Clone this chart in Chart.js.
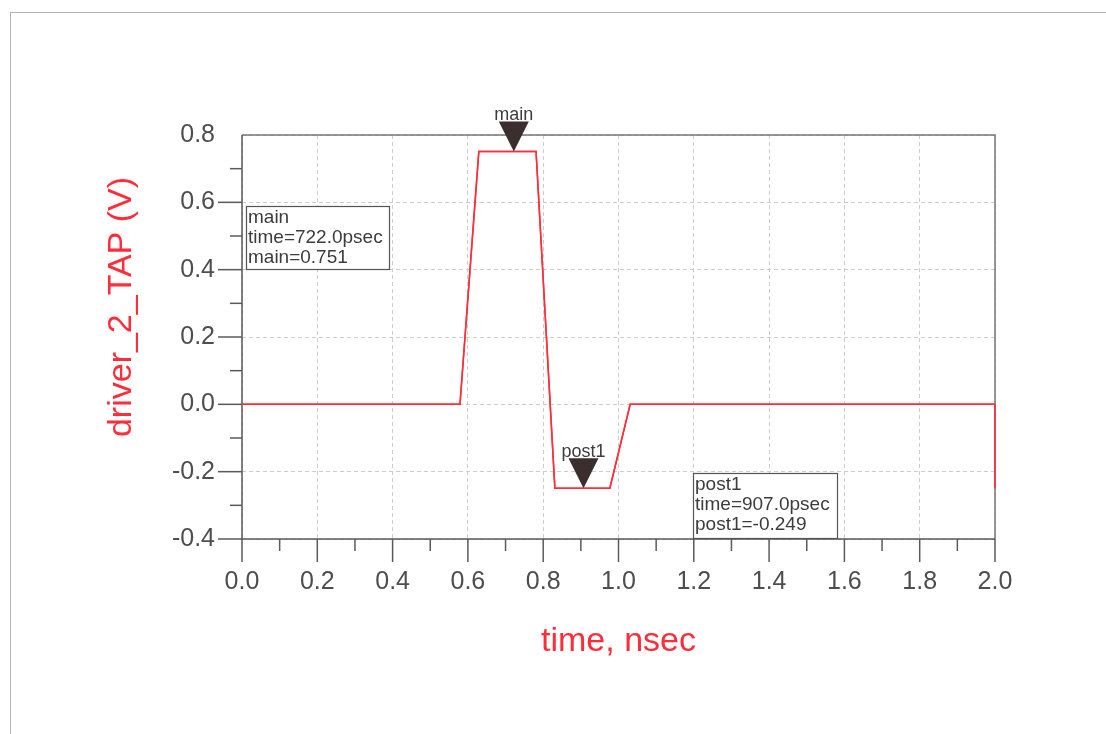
<!DOCTYPE html>
<html>
<head>
<meta charset="utf-8">
<script src="https://cdn.jsdelivr.net/npm/chart.js@4"></script>
<style>
  html, body { margin: 0; padding: 0; background: #fff; overflow: hidden; }
  #wrap { position: relative; width: 1106px; height: 734px; }
  #frame { position: absolute; left: 10px; top: 12px; width: 1200px; height: 800px; border: 1px solid #b4b4b4; box-sizing: border-box; }
  canvas { position: absolute; left: 0; top: 0; }
</style>
</head>
<body>
<div id="wrap">
  <div id="frame"></div>
  <canvas id="c" width="1106" height="734"></canvas>
</div>
<script>
// ---- data ----
const timeNs   = [0, 0.579, 0.629, 0.781, 0.831, 0.977, 1.031, 2.0, 2.0];
const voltage  = [0, 0, 0.751, 0.751, -0.249, -0.249, 0, 0, -0.25];
const xTickLabels = ['0.0','0.2','0.4','0.6','0.8','1.0','1.2','1.4','1.6','1.8','2.0'];
const yTickLabels = ['-0.4','-0.2','0.0','0.2','0.4','0.6','0.8'];
const markerNames  = ['main', 'post1'];
const markerTimes  = [0.722, 0.907];
const markerValues = [0.751, -0.249];
const xTitle = 'time, nsec';
const yTitle = 'driver_2_TAP (V)';

// ---- styles ----
const FONT = "'Liberation Sans', Arial, Helvetica, sans-serif";
const RED = '#ff2d3a';
const TICK_COLOR = '#4e4e4e';
const AXIS_COLOR = '#5a5a5a';
// annotation box offsets relative to chart area (px)
const boxOffsets = [ {dx: 4, dy: 71, w: 143, h: 63}, {dx: 451, dy: 338, w: 144, h: 65} ];

const points = timeNs.map((t, i) => ({x: t, y: voltage[i]}));

const decorPlugin = {
  id: 'decor',
  afterDatasetsDraw(chart) {
    const {ctx, chartArea: a, scales: {x, y}} = chart;
    ctx.save();
    // top & right frame
    ctx.strokeStyle = '#777';
    ctx.lineWidth = 1.5;
    ctx.beginPath();
    ctx.moveTo(a.left, a.top); ctx.lineTo(a.right, a.top); ctx.lineTo(a.right, a.bottom);
    ctx.stroke();
    // left and bottom axis
    ctx.strokeStyle = AXIS_COLOR;
    ctx.beginPath();
    ctx.moveTo(a.left, a.top); ctx.lineTo(a.left, a.bottom); ctx.lineTo(a.right, a.bottom);
    ctx.stroke();

    // ticks
    ctx.lineWidth = 1.5;
    ctx.strokeStyle = AXIS_COLOR;
    const xv = xTickLabels.map(parseFloat);
    xv.forEach((v, i) => {
      const px = x.getPixelForValue(v);
      ctx.beginPath(); ctx.moveTo(px, a.bottom); ctx.lineTo(px, a.bottom + 23); ctx.stroke();
      if (i < xv.length - 1) {
        const pm = x.getPixelForValue((v + xv[i + 1]) / 2);
        ctx.beginPath(); ctx.moveTo(pm, a.bottom); ctx.lineTo(pm, a.bottom + 12); ctx.stroke();
      }
    });
    const yv = yTickLabels.map(parseFloat);
    yv.forEach((v, i) => {
      const py = y.getPixelForValue(v);
      if (i < yv.length - 1) {
        ctx.beginPath(); ctx.moveTo(a.left - 24, py); ctx.lineTo(a.left, py); ctx.stroke();
        const pm = y.getPixelForValue((v + yv[i + 1]) / 2);
        ctx.beginPath(); ctx.moveTo(a.left - 12, pm); ctx.lineTo(a.left, pm); ctx.stroke();
      }
    });

    // redraw the data line over the frame so the end drop stays red
    const meta = chart.getDatasetMeta(0);
    ctx.strokeStyle = RED;
    ctx.lineWidth = 1.5;
    ctx.beginPath();
    meta.data.forEach((p, i) => { if (i === 0) ctx.moveTo(p.x, p.y); else ctx.lineTo(p.x, p.y); });
    ctx.stroke();

    // markers
    markerNames.forEach((name, i) => {
      const px = x.getPixelForValue(markerTimes[i]);
      const py = y.getPixelForValue(markerValues[i]);
      ctx.fillStyle = '#3a2e2e';
      ctx.beginPath();
      ctx.moveTo(px - 15, py - 30); ctx.lineTo(px + 15, py - 30); ctx.lineTo(px, py);
      ctx.closePath(); ctx.fill();
      ctx.fillStyle = '#3c3c3c';
      ctx.font = '18px ' + FONT;
      ctx.textAlign = 'center';
      ctx.textBaseline = 'alphabetic';
      ctx.fillText(name, px, py - 31);

      // readout box
      const b = boxOffsets[i];
      const bx = a.left + b.dx, by = a.top + b.dy;
      ctx.fillStyle = '#fff';
      ctx.fillRect(bx, by, b.w, b.h);
      ctx.strokeStyle = '#555';
      ctx.lineWidth = 1.2;
      ctx.strokeRect(bx + 0.5, by + 0.5, b.w, b.h);
      ctx.fillStyle = '#3c3c3c';
      ctx.textAlign = 'left';
      ctx.font = '19px ' + FONT;
      const lines = [name, 'time=' + (markerTimes[i] * 1000).toFixed(1) + 'psec', name + '=' + markerValues[i].toFixed(3)];
      lines.forEach((ln, k) => ctx.fillText(ln, bx + 2, by + 17 + k * 20));
    });

    // y axis title
    ctx.save();
    ctx.translate(122, 307);
    ctx.rotate(-Math.PI / 2);
    ctx.fillStyle = RED;
    ctx.font = '34px ' + FONT;
    ctx.textAlign = 'center';
    ctx.textBaseline = 'middle';
    ctx.fillText(yTitle, 0, 0);
    ctx.restore();

    ctx.restore();
  }
};

new Chart(document.getElementById('c'), {
  type: 'line',
  data: {
    datasets: [{
      label: yTitle,
      data: points,
      borderColor: RED,
      borderWidth: 1.5,
      pointRadius: 0,
      tension: 0,
      fill: false
    }]
  },
  options: {
    responsive: false,
    animation: false,
    events: [],
    layout: { padding: { left: 0, top: 135, right: 111, bottom: 0 } },
    plugins: { legend: { display: false }, tooltip: { enabled: false } },
    scales: {
      x: {
        type: 'linear',
        min: 0, max: 2,
        afterBuildTicks: s => { s.ticks = xTickLabels.map(t => ({value: parseFloat(t)})); },
        afterFit: s => { s.height = 195; },
        ticks: {
          callback: (v, i) => xTickLabels[i],
          font: { size: 25, family: FONT },
          color: TICK_COLOR,
          padding: 28,
          maxRotation: 0,
          autoSkip: false
        },
        grid: { color: '#cdcdcd', lineWidth: 1, drawTicks: false },
        border: { display: false, dash: [4, 3] },
        title: {
          display: true, text: xTitle, color: RED,
          font: { size: 34, family: FONT },
          padding: { top: 0, bottom: 72 }
        }
      },
      y: {
        type: 'linear',
        min: -0.4, max: 0.8,
        afterBuildTicks: s => { s.ticks = yTickLabels.map(t => ({value: parseFloat(t)})); },
        afterFit: s => { s.width = 242; },
        ticks: {
          callback: (v, i) => yTickLabels[i],
          font: { size: 25, family: FONT },
          color: TICK_COLOR,
          padding: 27,
          autoSkip: false
        },
        grid: { color: '#cdcdcd', lineWidth: 1, drawTicks: false },
        border: { display: false, dash: [4, 3] }
      }
    }
  },
  plugins: [decorPlugin]
});
</script>
</body>
</html>
